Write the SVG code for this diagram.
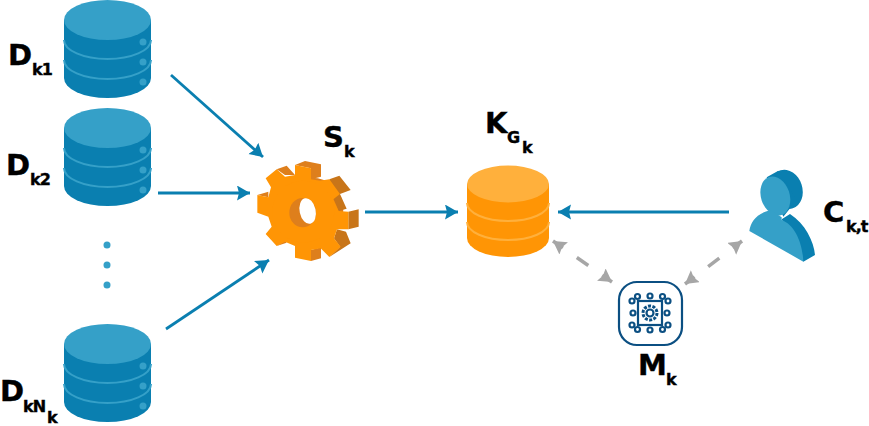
<svg xmlns="http://www.w3.org/2000/svg" xmlns:xlink="http://www.w3.org/1999/xlink" width="869" height="426" viewBox="0 0 869 426">
<style>
text{font-family:"DejaVu Sans","Liberation Sans",sans-serif;font-weight:700;fill:#000;stroke:#000;stroke-width:.4}
.b{font-size:29px}.s{font-size:16px;letter-spacing:-1px}
.c{fill:none;stroke:#0a7fb0;stroke-width:2.8;marker-end:url(#ah)}
.g{fill:none;stroke:#a6a6a6;stroke-width:3.500;stroke-dasharray:12 17 14 17 12;marker-start:url(#gh);marker-end:url(#gh)}
.dk{fill:#0a7fb0}.lt{fill:#35a0c8}
.ol{fill:none;stroke:#35a0c8;stroke-width:2}
.ic{fill:none;stroke:#0b4f82;stroke-width:2.2}
</style>
<defs>
<marker id="ah" markerUnits="userSpaceOnUse" markerWidth="16" markerHeight="16" refX="13" refY="7.500" orient="auto"><path d="M0,0L13,7.500L0,15L2,7.500z" fill="#0a7fb0"/></marker>
<marker id="gh" markerUnits="userSpaceOnUse" markerWidth="16" markerHeight="16" refX="13" refY="7.500" orient="auto-start-reverse"><path d="M0,0L13,7.500L0,15L2,7.500z" fill="#a6a6a6"/></marker>
<g id="db">
<path class="dk" d="M64,20V78A43.5,20 0 0 0 151,78V20z"/>
<ellipse class="lt" cx="107.500" cy="20" rx="43.500" ry="20"/>
<path class="ol" d="M64,40A43.500,19 0 0 0 151,40M64,60A43.500,19 0 0 0 151,60"/>
<circle class="lt" cx="143" cy="42" r="3.500"/><circle class="lt" cx="143" cy="62" r="3.500"/><circle class="lt" cx="143" cy="82" r="3.500"/>
</g>
</defs>

<g id="connectors">
<path class="c" d="M171,75L263,157"/>
<path class="c" d="M158,193H250"/>
<path class="c" d="M166,329L269,260"/>
<path class="c" d="M365,212H458"/>
<path class="c" d="M729,212H558"/>
<path class="g" d="M553,241L612,282"/>
<path class="g" d="M685,284L742,241"/>
</g>

<g id="D1"><use xlink:href="#db"/><text class="b" x="8" y="65">D</text><text class="s" x="32" y="75">k1</text></g>
<g id="D2"><use xlink:href="#db" y="108"/><text class="b" x="6" y="175">D</text><text class="s" x="30" y="185">k2</text></g>
<g id="dots"><circle class="lt" cx="107" cy="245" r="3.500"/><circle class="lt" cx="107" cy="265" r="3.500"/><circle class="lt" cx="107" cy="285" r="3.500"/></g>
<g id="DN"><use xlink:href="#db" y="324"/><text class="b" x="0" y="401">D</text><text class="s" x="23" y="412">kN</text><text class="s" x="47" y="423">k</text></g>

<g id="S"><g transform="translate(240 110) scale(.33333)">
<circle cx="215" cy="298" r="95" fill="#de7f1c"/>
<path fill="#c87519" d="M268,208L298,197L332,240L300,252L320,296L296,303L280,265zM325,305L356,298V350L325,358zM291,358L318,365L332,400L268,441L300,410L282,385z"/>
<path fill="#de7f1c" d="M165,165L195,153L243,163V200L213,208V175zM110,178L140,167L165,195H135zM52,255L85,245V262zM213,420L243,412V445L213,453zM110,408L135,392L140,398z"/>
<path fill="#ff9505" d="M165,165L213,175V208L240,212L268,208L300,252L280,268L296,303L325,305V358L291,358L282,385L302,410L268,441L242,415L213,420V453L165,443V408L135,395L110,408L77,372L95,350L85,320L52,308V255L85,262L93,232L77,205L110,178L135,200L165,195z"/>
<circle cx="190" cy="305" r="93" fill="#ff9505"/>
<ellipse cx="188" cy="308" rx="40" ry="44" fill="#de7f1c"/>
<ellipse cx="203" cy="303" rx="24" ry="39" transform="rotate(-12 203 303)" fill="#fff"/>
</g><text class="b" x="323" y="147">S</text><text class="s" x="344" y="157">k</text></g>

<g id="K">
<path fill="#ff9505" d="M467,184V238A41,19 0 0 0 549,238V184z"/>
<ellipse cx="508" cy="184" rx="41" ry="18.500" fill="#ffb03c"/>
<path fill="none" stroke="#ffb03c" stroke-width="2" d="M467,203A41,18 0 0 0 549,203M467,222A41,18 0 0 0 549,222"/>
<text class="b" x="485" y="133">K</text><text class="s" x="507" y="143">G</text><text class="s" x="522" y="153">k</text>
</g>

<g id="C"><g transform="translate(740 160) scale(.33333)">
<ellipse class="dk" cx="140" cy="88" rx="47" ry="60" transform="rotate(-18 140 88)"/>
<path class="dk" d="M80,52L115,32L170,120L130,170zM190,305L225,285C222,245 195,190 150,162L125,178z"/>
<ellipse class="lt" cx="106" cy="108" rx="43" ry="60" transform="rotate(-18 106 108)"/>
<path class="lt" d="M28,213C32,185 50,160 92,150L125,172V180C165,195 188,250 190,305z"/>
</g><text class="b" x="823" y="222">C</text><text class="s" x="846" y="232">k,t</text></g>

<g id="M">
<rect class="ic" x="619" y="282" width="63" height="63" rx="18"/>
<rect class="ic" x="638" y="301" width="24" height="24"/>
<circle class="ic" cx="650" cy="313" r="3.500"/>
<circle cx="650" cy="313" r="7" fill="none" stroke="#0b4f82" stroke-width="3" stroke-dasharray="3 1.400"/>
<g class="ic">
<circle cx="650" cy="296" r="2.500"/><circle cx="650" cy="330" r="2.500"/><circle cx="633" cy="313" r="2.500"/><circle cx="667" cy="313" r="2.500"/>
<circle cx="637.500" cy="296.500" r="2.500"/><circle cx="662.500" cy="296.500" r="2.500"/><circle cx="637.500" cy="329.500" r="2.500"/><circle cx="662.500" cy="329.500" r="2.500"/>
<circle cx="632" cy="301" r="2.500"/><circle cx="668" cy="301" r="2.500"/><circle cx="632" cy="325" r="2.500"/><circle cx="668" cy="325" r="2.500"/>
</g>
<text class="b" x="638" y="375">M</text><text class="s" x="666" y="385">k</text>
</g>
</svg>
